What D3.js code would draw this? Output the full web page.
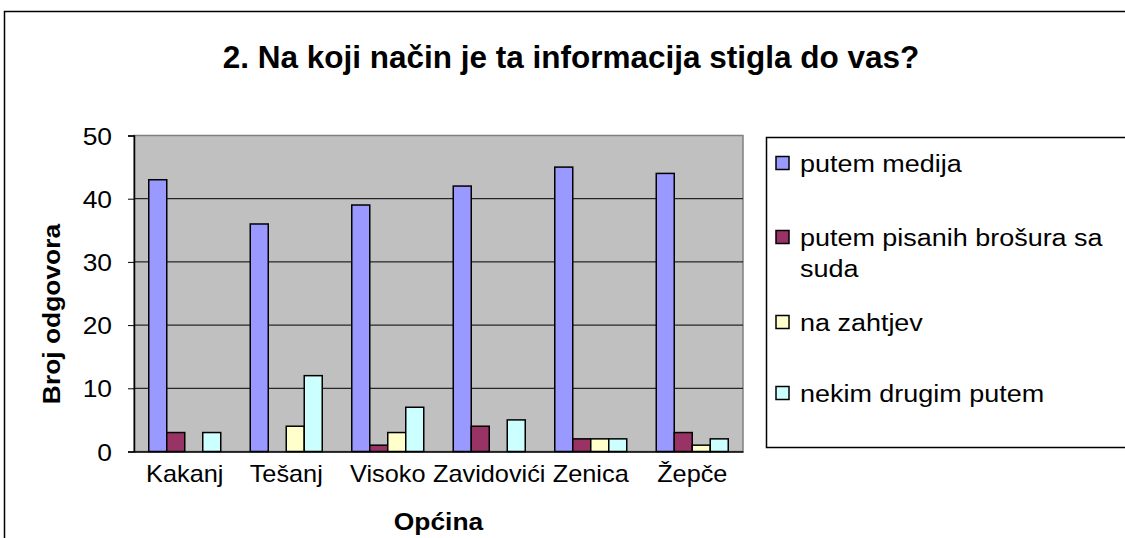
<!DOCTYPE html>
<html>
<head>
<meta charset="utf-8">
<script src="https://cdn.jsdelivr.net/npm/d3@7"></script>
<style>
  body { margin:0; background:#fff; }
  text { font-family: "Liberation Sans", Arial, sans-serif; fill:#000; }
</style>
</head>
<body>
<div id="canvas"></div>
<script>
// data
var categories = ['Kakanj', 'Tešanj', 'Visoko', 'Zavidovići', 'Zenica', 'Žepče'];
var seriesNames = ['putem medija', 'putem pisanih brošura sa suda', 'na zahtjev', 'nekim drugim putem'];
var legendLines = [['putem medija'], ['putem pisanih brošura sa', 'suda'], ['na zahtjev'], ['nekim drugim putem']];
var medija  = [43, 36, 39, 42, 45, 44];
var brosure = [3, 0, 1, 4, 2, 3];
var zahtjev = [0, 4, 3, 0, 2, 1];
var drugim  = [3, 12, 7, 5, 2, 2];
var yTicks = [0, 10, 20, 30, 40, 50];
var colors = ['#9999ff', '#993366', '#ffffcc', '#ccffff'];

var W = 1125, H = 538;
var plotBox = {l:134, r:743, t:135.5, b:451.5};
var SX = 1.1; // text in the picture is a bit wider than tall

var svg = d3.select('#canvas').append('svg')
    .attr('width', W).attr('height', H);

// widen text around its own anchor point
function stretch(sel){
    sel.each(function(){
        var t = d3.select(this);
        var x = +t.attr('x') || 0, y = +t.attr('y') || 0;
        t.attr('transform', 'translate(' + x + ',' + y + ') scale(' + SX + ',1) translate(' + (-x) + ',' + (-y) + ')');
    });
}

// outer chart border (runs off the page right and bottom)
svg.append('rect')
    .attr('x', 4.5).attr('y', 11.5)
    .attr('width', W + 20).attr('height', H + 20)
    .style('fill', '#fff').style('stroke', '#000').style('stroke-width', 1.5);

// title
svg.append('text')
    .attr('x', 571).attr('y', 68)
    .attr('text-anchor', 'middle')
    .style('font-size', '31.5px').style('font-weight', 'bold')
    .text('2. Na koji način je ta informacija stigla do vas?');

//Scale
var x0 = d3.scaleBand().domain(categories).range([plotBox.l, plotBox.r]);
var x1 = d3.scaleBand().domain(seriesNames).range([0, x0.bandwidth()])
    .paddingInner(0).paddingOuter(0.82);
var y = d3.scaleLinear().domain([0, 50]).range([plotBox.b, plotBox.t]);
var color = d3.scaleOrdinal().domain(seriesNames).range(colors);

// plot area
svg.append('rect')
    .attr('x', plotBox.l).attr('y', plotBox.t)
    .attr('width', plotBox.r - plotBox.l).attr('height', plotBox.b - plotBox.t)
    .style('fill', '#c0c0c0').style('stroke', '#808080').style('stroke-width', 1.5);

// gridlines
svg.append('g').selectAll('line')
    .data(yTicks.filter(function(d){ return d > 0 && d < 50; }))
    .enter().append('line')
    .attr('x1', plotBox.l).attr('x2', plotBox.r)
    .attr('y1', function(d){ return y(d); }).attr('y2', function(d){ return y(d); })
    .style('stroke', '#000').style('stroke-width', 1);

//Axis
var axisY = d3.axisLeft(y).tickValues(yTicks).tickSize(6).tickPadding(16);
var gy = svg.append('g').attr('class', 'axis axis-y')
    .attr('transform', 'translate(' + plotBox.l + ',0)')
    .call(axisY);
gy.select('.domain').style('stroke', '#000').style('stroke-width', 1.5);
gy.selectAll('.tick line').style('stroke', '#000');
gy.selectAll('.tick text')
    .style('font-size', '24px').style('font-family', '"Liberation Sans", Arial, sans-serif')
    .attr('dy', '0.36em')
    .call(stretch);

var axisX = d3.axisBottom(x0).tickSize(0).tickPadding(14);
var gx = svg.append('g').attr('class', 'axis axis-x')
    .attr('transform', 'translate(0,' + plotBox.b + ')')
    .call(axisX);
gx.select('.domain').style('stroke', '#000').style('stroke-width', 1.5);
gx.selectAll('.tick text')
    .style('font-size', '23px').style('font-family', '"Liberation Sans", Arial, sans-serif')
    .call(stretch);

// bars
var rows = categories.map(function(c, i){
    return {cat: c, values: [medija[i], brosure[i], zahtjev[i], drugim[i]]};
});
var groups = svg.append('g').selectAll('.group')
    .data(rows).enter().append('g')
    .attr('class', 'group')
    .attr('transform', function(d){ return 'translate(' + x0(d.cat) + ',0)'; });
groups.selectAll('rect')
    .data(function(d){
        return d.values.map(function(v, j){ return {s: seriesNames[j], v: v}; })
            .filter(function(e){ return e.v > 0; });
    })
    .enter().append('rect')
    .attr('x', function(d){ return x1(d.s); })
    .attr('width', x1.bandwidth())
    .attr('y', function(d){ return y(d.v); })
    .attr('height', function(d){ return y(0) - y(d.v); })
    .style('fill', function(d){ return color(d.s); })
    .style('stroke', '#000').style('stroke-width', 1.5);

// axis titles
svg.append('text')
    .attr('transform', 'translate(60,314) rotate(-90) scale(' + SX + ',1)')
    .attr('text-anchor', 'middle')
    .style('font-size', '24px').style('font-weight', 'bold')
    .text('Broj odgovora');
svg.append('text')
    .attr('x', (plotBox.l + plotBox.r) / 2).attr('y', 530)
    .attr('text-anchor', 'middle')
    .style('font-size', '24px').style('font-weight', 'bold')
    .text('Općina')
    .call(stretch);

// legend
var legend = svg.append('g');
legend.append('rect')
    .attr('x', 766.5).attr('y', 137.5)
    .attr('width', W).attr('height', 310)
    .style('fill', '#fff').style('stroke', '#000').style('stroke-width', 1.5);
var itemY = [163, 237, 322, 393];
var items = legend.selectAll('.item')
    .data(seriesNames).enter().append('g')
    .attr('class', 'item')
    .attr('transform', function(d, i){ return 'translate(776,' + itemY[i] + ')'; });
items.append('rect')
    .attr('x', 0).attr('y', -6.5).attr('width', 13).attr('height', 13)
    .style('fill', function(d){ return color(d); })
    .style('stroke', '#000').style('stroke-width', 1.5);
items.each(function(d, i){
    var t = d3.select(this).append('text')
        .attr('x', 24).attr('y', 0)
        .style('font-size', '24.5px');
    legendLines[i].forEach(function(line, k){
        t.append('tspan').attr('x', 24).attr('dy', k === 0 ? '0.36em' : '31px').text(line);
    });
    t.call(stretch);
});
</script>
</body>
</html>
